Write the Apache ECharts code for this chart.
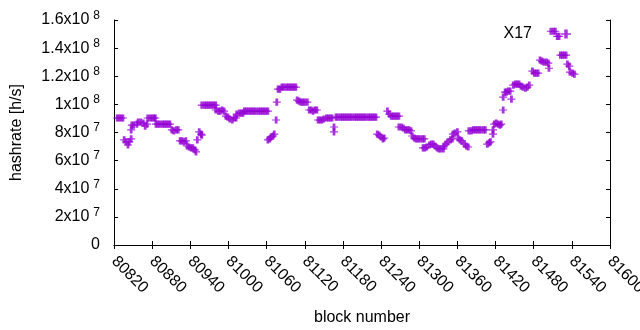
<!DOCTYPE html>
<html>
<head>
<meta charset="utf-8">
<title>X17 hashrate</title>
<script src="https://cdn.jsdelivr.net/npm/echarts@6/dist/echarts.min.js"></script>
<style>
html, body { margin: 0; padding: 0; background: #fff; }
#chart { width: 640px; height: 330px; }
</style>
</head>
<body>
<div id="chart"></div>
<script>
// block numbers (x), one line per cluster of points
var blockNumbers = [
    80825, 80828, 80831, 80834,
    80836, 80839, 80842, 80844, 80847,
    80847, 80848, 80851, 80856,
    80858, 80862, 80866,
    80869, 80872,
    80873, 80877, 80880, 80883, 80885,
    80886, 80889, 80892, 80896, 80899, 80902, 80905, 80908,
    80911, 80914, 80918, 80921,
    80924, 80927, 80930, 80933,
    80935, 80938, 80941, 80944,
    80947, 80949,
    80951,
    80954, 80957, 80958,
    80958, 80962, 80965, 80968, 80971, 80974, 80977, 80980,
    80980, 80984, 80987, 80990, 80993,
    80996, 80999, 81002, 81006, 81009, 81012,
    81013, 81017, 81020, 81023,
    81025, 81028, 81031, 81034, 81037, 81040, 81043, 81047, 81050, 81053, 81056, 81059, 81062,
    81075, 81076,
    81062, 81065, 81067, 81070, 81072,
    81078, 81081, 81084, 81087, 81091, 81094, 81097, 81100, 81103, 81106,
    81108, 81111, 81114, 81117, 81120, 81124,
    81127, 81130, 81133, 81136, 81139,
    81141, 81144, 81147, 81150, 81154, 81157, 81160, 81163,
    81166, 81166,
    81169, 81172, 81176, 81179, 81182, 81185, 81188, 81191, 81194, 81198, 81201,
    81204, 81207, 81210, 81213, 81216, 81220, 81223, 81226, 81229, 81232,
    81234, 81237, 81240, 81243, 81245,
    81250, 81253, 81256, 81259, 81262, 81265, 81268,
    81268, 81272, 81275, 81278, 81281, 81284, 81287,
    81289, 81292, 81295, 81298, 81301, 81305, 81308,
    81306, 81309, 81312, 81316, 81319, 81322, 81325, 81328, 81331, 81334, 81338,
    81339, 81342, 81345, 81349, 81352,
    81353, 81356, 81360,
    81361, 81364, 81367,
    81371, 81374, 81377,
    81378, 81382, 81385,
    81388, 81391, 81394, 81397, 81401, 81404,
    81407, 81410, 81412,
    81416, 81416,
    81418, 81421, 81424, 81427, 81429,
    81432, 81432, 81435, 81445,
    81437, 81440, 81443,
    81448, 81451, 81454, 81457, 81460, 81463, 81467, 81470, 81473,
    81478, 81481, 81484, 81487,
    81490, 81493, 81496, 81500, 81503, 81504,
    81507, 81511, 81514,
    81517, 81520,
    81522, 81525, 81528, 81531,
    81533, 81536,
    81537, 81541, 81544
];
// hashrate in 10^6 h/s, same layout as blockNumbers
var hashrateM = [
    90.3, 90.3, 90.3, 90.3,
    74.7, 73.3, 71.1, 73.3, 75.4,
    81.8, 85.3, 85.3, 86.0,
    87.4, 87.4, 86.7,
    84.6, 86.0,
    90.3, 90.3, 90.3, 90.3, 90.3,
    86.0, 86.0, 86.0, 86.0, 86.0, 86.0, 86.0, 86.0,
    81.8, 81.1, 81.8, 81.8,
    74.0, 74.0, 73.3, 74.0,
    70.4, 69.7, 69.0, 69.0,
    67.6, 66.2,
    74.7,
    80.4, 78.9, 78.2,
    99.5, 99.5, 99.5, 99.5, 99.5, 99.5, 99.5, 99.5,
    96.0, 95.2, 95.2, 96.0, 95.2,
    91.7, 91.0, 89.6, 88.9, 90.3, 90.3,
    93.1, 93.8, 93.8, 93.8,
    95.2, 95.2, 95.2, 95.2, 95.2, 95.2, 95.2, 95.2, 95.2, 95.2, 95.2, 95.2, 95.2,
    88.9, 101.6,
    74.7, 75.4, 76.8, 77.5, 78.9,
    110.8, 110.8, 112.3, 112.3, 112.3, 112.3, 112.3, 112.3, 112.3, 112.3,
    103.0, 102.3, 101.6, 101.6, 101.6, 101.6,
    96.0, 96.0, 95.2, 96.0, 96.0,
    88.9, 88.9, 88.9, 89.6, 90.3, 90.3, 90.3, 90.3,
    83.9, 80.4,
    91.0, 91.0, 91.0, 91.0, 91.0, 91.0, 91.0, 91.0, 91.0, 91.0, 91.0,
    91.0, 91.0, 91.0, 91.0, 91.0, 91.0, 91.0, 91.0, 91.0, 91.0,
    78.9, 78.2, 76.8, 75.4, 76.1,
    95.2, 93.1, 91.7, 91.7, 91.7, 91.7, 91.7,
    83.9, 83.9, 83.2, 81.8, 81.8, 81.8, 81.1,
    77.5, 76.1, 75.4, 75.4, 75.4, 75.4, 75.4,
    69.0, 69.0, 69.7, 71.1, 71.8, 71.8, 70.4, 69.0, 68.3, 68.3, 68.3,
    70.4, 71.8, 73.3, 74.7, 75.4,
    78.9, 79.6, 80.4,
    76.1, 74.7, 74.0,
    71.8, 70.4, 69.7,
    81.1, 81.1, 81.8,
    81.8, 81.8, 81.8, 81.8, 81.8, 81.8,
    71.8, 72.6, 73.3,
    81.8, 78.9,
    86.0, 86.7, 86.0, 85.3, 86.0,
    96.0, 105.2, 108.7, 103.8,
    108.7, 109.4, 109.4,
    113.7, 114.4, 114.4, 114.4, 113.0, 112.3, 111.6, 112.3, 113.7,
    123.6, 122.2, 122.2, 122.2,
    131.4, 130.7, 130.0, 130.0, 129.3, 125.7,
    152.0, 152.0, 152.0,
    148.4, 148.4,
    135.0, 135.0, 135.0, 135.0,
    128.6, 127.2,
    122.9, 122.2, 121.5
];
// y tick labels: mantissa and exponent (0, 2e7 ... 1.6e8)
var yTickBase = ["0", "2x10", "4x10", "6x10", "8x10", "1x10", "1.2x10", "1.4x10", "1.6x10"];
var yTickExp = ["", "7", "7", "7", "7", "8", "8", "8", "8"];

var seriesName = "X17";
var purple = "#9400d3";
var fontName = "Liberation Sans, Arial, sans-serif";
// gnuplot style "+" point (vertical bar a bit wide so dense runs fill in)
var plusSymbol = "path://M0,3H8V4.2H0Z M2.6,0H5.4V7.2H2.6Z";

var points = [];
for (var i = 0; i < blockNumbers.length; i++) {
    points.push([blockNumbers[i], hashrateM[i] * 1e6]);
}

var myChart = echarts.init(document.getElementById("chart"), null, { renderer: "canvas" });

var tickInside = { show: true, inside: true, length: 4, lineStyle: { color: "#000" } };
var lineBlack = { show: true, lineStyle: { color: "#000", width: 1 } };

var option = {
    animation: false,
    backgroundColor: "#fff",
    textStyle: { fontFamily: fontName },
    grid: { left: 114, right: 30, top: 20, bottom: 85, outerBoundsMode: "none", containLabel: false },
    legend: {
        data: [{ name: seriesName, icon: plusSymbol }],
        right: 64,
        top: 21,
        align: "right",
        itemWidth: 58,
        itemHeight: 9,
        textStyle: { fontSize: 16, color: "#000", fontFamily: fontName }
    },
    xAxis: [
        {
            type: "value",
            min: 80820,
            max: 81600,
            interval: 60,
            name: "block number",
            nameLocation: "middle",
            nameGap: 65,
            nameTextStyle: { fontSize: 16, color: "#000", fontFamily: fontName },
            axisLine: lineBlack,
            axisTick: tickInside,
            splitLine: { show: false },
            axisLabel: {
                rotate: -45,
                margin: 14,
                fontSize: 16,
                color: "#000",
                fontFamily: fontName,
                showMinLabel: true,
                showMaxLabel: true,
                formatter: function (value) {
                    return String(value);
                }
            }
        },
        {
            type: "value",
            position: "top",
            min: 80820,
            max: 81600,
            interval: 60,
            axisLine: lineBlack,
            axisTick: tickInside,
            axisLabel: { show: false },
            splitLine: { show: false }
        }
    ],
    yAxis: [
        {
            type: "value",
            min: 0,
            max: 1.6e8,
            interval: 2e7,
            name: "hashrate [h/s]",
            nameLocation: "middle",
            nameGap: 89,
            nameTextStyle: { fontSize: 16, color: "#000", fontFamily: fontName },
            axisLine: lineBlack,
            axisTick: tickInside,
            splitLine: { show: false },
            axisLabel: {
                margin: 14,
                formatter: function (value) {
                    var k = Math.round(value / 2e7);
                    if (!yTickExp[k]) {
                        return "{m|" + yTickBase[k] + "}";
                    }
                    return "{m|" + yTickBase[k] + "}{e|" + yTickExp[k] + "}";
                },
                rich: {
                    m: { fontSize: 16, color: "#000", fontFamily: fontName },
                    e: { fontSize: 12, color: "#000", fontFamily: fontName, padding: [0, 0, 9, 4] }
                }
            }
        },
        {
            type: "value",
            position: "right",
            min: 0,
            max: 1.6e8,
            interval: 2e7,
            axisLine: lineBlack,
            axisTick: tickInside,
            axisLabel: { show: false },
            splitLine: { show: false }
        }
    ],
    series: [
        {
            name: seriesName,
            type: "scatter",
            symbol: plusSymbol,
            symbolSize: [8, 7.2],
            itemStyle: { color: purple },
            data: points
        }
    ]
};
myChart.setOption(option);
</script>
</body>
</html>
